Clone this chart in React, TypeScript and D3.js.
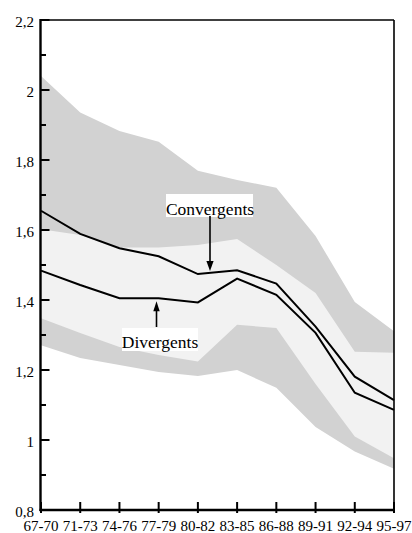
import React from "react";
import * as d3 from "d3";

const categories = ["67-70", "71-73", "74-76", "77-79", "80-82", "83-85", "86-88", "89-91", "92-94", "95-97"];
const convergents = [1.655, 1.589, 1.548, 1.525, 1.474, 1.485, 1.447, 1.324, 1.181, 1.114];
const divergents = [1.484, 1.443, 1.405, 1.405, 1.393, 1.461, 1.415, 1.306, 1.135, 1.086];
const outerUpper = [2.04, 1.936, 1.883, 1.852, 1.769, 1.743, 1.721, 1.583, 1.394, 1.311];
const innerUpper = [1.602, 1.586, 1.55, 1.55, 1.557, 1.574, 1.5, 1.42, 1.252, 1.249];
const innerLower = [1.348, 1.306, 1.266, 1.243, 1.224, 1.329, 1.32, 1.16, 1.01, 0.948];
const outerLower = [1.271, 1.234, 1.214, 1.194, 1.183, 1.2, 1.149, 1.037, 0.967, 0.918];
const yTickValues = [0.8, 1, 1.2, 1.4, 1.6, 1.8, 2, 2.2];
const yMinorValues = [0.9, 1.1, 1.3, 1.5, 1.7, 1.9, 2.1];

const W = 412;
const H = 533;
const L = 41;
const R = 394;
const T = 20;
const B = 510;

const fmt = (v: number) => {
  const s = d3.format("~g")(Math.round(v * 10) / 10);
  return s.replace(".", ",");
};

const fontStyle = { fontFamily: '"Liberation Serif", "Times New Roman", Times, serif' };

export default function App() {
  const x = d3.scalePoint<string>().domain(categories).range([L, R]);
  const y = d3.scaleLinear().domain([0.8, 2.2]).range([B, T]);
  const idx = d3.range(categories.length);

  const outerArea = d3
    .area<number>()
    .x((i) => x(categories[i]) as number)
    .y0((i) => y(outerLower[i]))
    .y1((i) => y(outerUpper[i]));
  const innerArea = d3
    .area<number>()
    .x((i) => x(categories[i]) as number)
    .y0((i) => y(innerLower[i]))
    .y1((i) => y(innerUpper[i]));
  const lineGen = (vals: number[]) =>
    d3
      .line<number>()
      .x((i) => x(categories[i]) as number)
      .y((i) => y(vals[i]))(idx) as string;

  const x4 = x(categories[4]) as number;
  const x5 = x(categories[5]) as number;
  const convX = 210;
  const convTip = y(convergents[4]) + ((y(convergents[5]) - y(convergents[4])) * (convX - x4)) / (x5 - x4) - 2;
  const divX = 156.5;
  const divTip = y(divergents[3]) + 3;

  return (
    <svg width={W} height={H} style={{ position: "absolute", left: 0, top: 0, background: "#fff" }}>
      <path d={outerArea(idx) as string} fill="#d2d2d2" />
      <path d={innerArea(idx) as string} fill="#f2f2f2" />
      <path d={lineGen(convergents)} fill="none" stroke="#000" strokeWidth={2} />
      <path d={lineGen(divergents)} fill="none" stroke="#000" strokeWidth={2} />

      <rect x={166} y={194} width={87} height={23} fill="#fff" />
      <text x={210} y={215} textAnchor="middle" style={fontStyle} fontSize={17.5}>
        Convergents
      </text>
      <line x1={convX} x2={convX} y1={216} y2={convTip - 9} stroke="#000" strokeWidth={1.6} />
      <path d={`M${convX - 3.6},${convTip - 10}L${convX + 3.6},${convTip - 10}L${convX},${convTip}Z`} fill="#000" />

      <rect x={122} y={328} width={76} height={23} fill="#fff" />
      <text x={160} y={348} textAnchor="middle" style={fontStyle} fontSize={17.5}>
        Divergents
      </text>
      <line x1={divX} x2={divX} y1={327} y2={divTip + 9} stroke="#000" strokeWidth={1.6} />
      <path d={`M${divX - 3.2},${divTip + 10}L${divX + 3.2},${divTip + 10}L${divX},${divTip}Z`} fill="#000" />

      <line x1={L} x2={R} y1={T} y2={T} stroke="#000" strokeWidth={1.6} />
      <line x1={R} x2={R} y1={T} y2={B} stroke="#000" strokeWidth={1.6} />
      <line x1={L - 0.5} x2={L - 0.5} y1={T - 1} y2={B + 1} stroke="#000" strokeWidth={2.4} />
      <line x1={L - 1.5} x2={R + 0.8} y1={B} y2={B} stroke="#000" strokeWidth={2.4} />

      {yTickValues.map((v) => (
        <g key={"yt" + v}>
          <line x1={L} x2={L + 8.5} y1={y(v)} y2={y(v)} stroke="#000" strokeWidth={2} />
          <text x={34} y={y(v) + 7} textAnchor="end" style={fontStyle} fontSize={15}>
            {fmt(v)}
          </text>
        </g>
      ))}
      {yMinorValues.map((v) => (
        <line key={"ym" + v} x1={L} x2={L + 5} y1={y(v)} y2={y(v)} stroke="#000" strokeWidth={2} />
      ))}

      {categories.map((c) => (
        <g key={"xt" + c}>
          <line x1={x(c) as number} x2={x(c) as number} y1={502} y2={513} stroke="#000" strokeWidth={2} />
          <text x={x(c) as number} y={531} textAnchor="middle" style={fontStyle} fontSize={15}>
            {c}
          </text>
        </g>
      ))}
    </svg>
  );
}
